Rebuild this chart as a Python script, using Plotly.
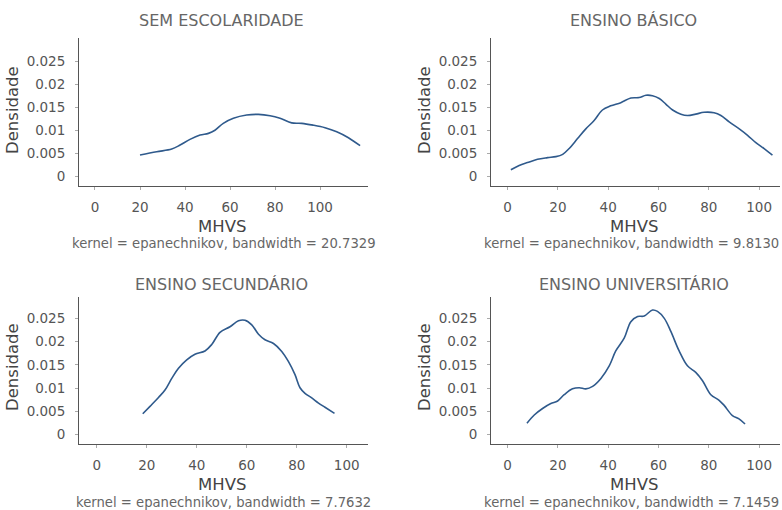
import plotly.graph_objects as go

# ---- data ----
titles = ["SEM ESCOLARIDADE", "ENSINO BÁSICO", "ENSINO SECUNDÁRIO", "ENSINO UNIVERSITÁRIO"]
notes = ["kernel = epanechnikov, bandwidth = 20.7329",
         "kernel = epanechnikov, bandwidth = 9.8130",
         "kernel = epanechnikov, bandwidth = 7.7632",
         "kernel = epanechnikov, bandwidth = 7.1459"]

sem_x = [20, 27.4, 34.1, 37.8, 42.2, 46.7, 50.4, 53.3, 57, 61.5, 67.4, 72.6, 77.8, 82.2, 87.4, 91.9, 97, 102.2, 107.4, 112.6, 117.8]
sem_y = [0.00471, 0.00543, 0.00601, 0.00688, 0.00812, 0.00906, 0.00942, 0.0101, 0.0116, 0.0127, 0.0134, 0.01355, 0.01326, 0.0127, 0.0117, 0.0116, 0.0112, 0.01065, 0.00978, 0.00848, 0.00674]

bas_x = [1.3, 4.6, 7.9, 11.9, 15.9, 19.2, 21.9, 24.5, 27.8, 31.1, 34.4, 37.7, 41, 45, 49, 52.3, 55, 57.6, 60.3, 62.9, 65.6, 68.9, 71.5, 74.8, 78.1, 82.1, 84.8, 88.1, 92.1, 95.4, 98.7, 102, 105.3]
bas_y = [0.0015, 0.00243, 0.00307, 0.00379, 0.00414, 0.00436, 0.00486, 0.00614, 0.00829, 0.0104, 0.0122, 0.0145, 0.0154, 0.0161, 0.0171, 0.0172, 0.0177, 0.0176, 0.0170, 0.0158, 0.0145, 0.0136, 0.0133, 0.0136, 0.0140, 0.0139, 0.0133, 0.0119, 0.0104, 0.0090, 0.0074, 0.0061, 0.0047]

sec_x = [18.4, 21.3, 24.7, 27.3, 30, 32.7, 36, 39.3, 43.3, 46, 49.3, 53.3, 56.7, 59.3, 62, 64.7, 67.3, 70.7, 74, 76.7, 79.3, 81.3, 83.3, 86, 88.7, 91.3, 95.1]
sec_y = [0.0045, 0.0061, 0.0080, 0.0096, 0.0121, 0.0143, 0.0161, 0.0173, 0.0180, 0.0194, 0.0220, 0.0232, 0.0245, 0.0246, 0.0236, 0.0216, 0.0204, 0.0196, 0.0179, 0.0157, 0.0129, 0.0101, 0.0089, 0.0079, 0.0068, 0.0059, 0.0046]

uni_x = [7.7, 10.6, 13.9, 17.2, 19.9, 22.5, 25.8, 28.5, 31.1, 33.8, 37.1, 40.4, 43, 46.4, 49, 51.7, 54.3, 57.6, 59.6, 62.3, 64.9, 68.2, 71.5, 74.8, 77.5, 80.8, 84.1, 86.1, 89.4, 92, 94.4]
uni_y = [0.00246, 0.00423, 0.00563, 0.00669, 0.00725, 0.0086, 0.00986, 0.0101, 0.00986, 0.0104, 0.0121, 0.0148, 0.0180, 0.0208, 0.0243, 0.0254, 0.0255, 0.0268, 0.0265, 0.0250, 0.0222, 0.0180, 0.0148, 0.0134, 0.0116, 0.0086, 0.0074, 0.0063, 0.0041, 0.0034, 0.0023]

x_ticks = [0, 20, 40, 60, 80, 100]
y_ticks = [0, 0.005, 0.01, 0.015, 0.02, 0.025]
y_ticktext = ["0", "0.005", "0.01", "0.015", "0.02", "0.025"]

series = [(sem_x, sem_y), (bas_x, bas_y), (sec_x, sec_y), (uni_x, uni_y)]

# ---- layout (pixels) ----
W, H = 782, 510
panels = [
    dict(x0=79, x1=368, y0=38, y1=186, xr=[-7.1, 121.3], yr=[-0.00202, 0.03015],
         ty=21, my=226.5, ny=243.5, dy=110),
    dict(x0=491, x1=780, y0=38, y1=186, xr=[-6.6, 108.3], yr=[-0.00202, 0.03015],
         ty=21, my=226.5, ny=243.5, dy=110),
    dict(x0=79, x1=368, y0=297, y1=444, xr=[-7.1, 108.5], yr=[-0.002, 0.0296],
         ty=284.5, my=484.3, ny=502, dy=367),
    dict(x0=491, x1=780, y0=297, y1=444, xr=[-6.6, 108.3], yr=[-0.002, 0.0296],
         ty=284.5, my=484.3, ny=502, dy=367),
]

FONT = "DejaVu Sans"
LINE = "#2f5a8c"
fig = go.Figure()
annotations = []
for i, (p, (sx, sy)) in enumerate(zip(panels, series)):
    n = "" if i == 0 else str(i + 1)
    fig.add_trace(go.Scatter(x=sx, y=sy, mode="lines", line=dict(color=LINE, width=1.6, shape="spline"),
                             xaxis="x" + n, yaxis="y" + n, showlegend=False, hoverinfo="skip"))
    dx = [p["x0"] / W, p["x1"] / W]
    dyy = [1 - p["y1"] / H, 1 - p["y0"] / H]
    common = dict(showgrid=False, zeroline=False, showline=True, linecolor="#555", linewidth=1,
                  ticks="outside", ticklen=3, tickcolor="#aaa",
                  tickfont=dict(family=FONT, size=13.5, color="#555"))
    fig.update_layout(**{
        "xaxis" + n: dict(domain=dx, range=p["xr"], anchor="y" + n, tickvals=x_ticks,
                          ticklabelstandoff=6, **common),
        "yaxis" + n: dict(domain=dyy, range=p["yr"], anchor="x" + n, tickvals=y_ticks,
                          ticktext=y_ticktext, ticklabelstandoff=7, **common),
    })
    cx = (p["x0"] + p["x1"]) / 2 - 2
    annotations.append(dict(text=titles[i], x=cx / W, y=1 - p["ty"] / H, xref="paper", yref="paper",
                            showarrow=False, xanchor="center", yanchor="middle",
                            font=dict(family=FONT, size=16, color="#666")))
    annotations.append(dict(text="MHVS", x=cx / W, y=1 - p["my"] / H, xref="paper", yref="paper",
                            showarrow=False, xanchor="center", yanchor="middle",
                            font=dict(family=FONT, size=16.5, color="#444")))
    if i % 2:
        nx, nanchor = 781 / W, "right"
    else:
        nx, nanchor = (p["x0"] + p["x1"]) / 2 / W, "center"
    annotations.append(dict(text=notes[i], x=nx, y=1 - p["ny"] / H, xref="paper", yref="paper",
                            showarrow=False, xanchor=nanchor, yanchor="middle",
                            font=dict(family=FONT, size=13.2, color="#666")))
    annotations.append(dict(text="Densidade", x=(p["x0"] - 67) / W, y=1 - p["dy"] / H,
                            xref="paper", yref="paper", showarrow=False, textangle=-90,
                            xanchor="center", yanchor="middle",
                            font=dict(family=FONT, size=16.5, color="#444")))

fig.update_layout(width=W, height=H, margin=dict(l=0, r=0, t=0, b=0),
                  paper_bgcolor="white", plot_bgcolor="white", annotations=annotations)
fig.write_html("out.html")
